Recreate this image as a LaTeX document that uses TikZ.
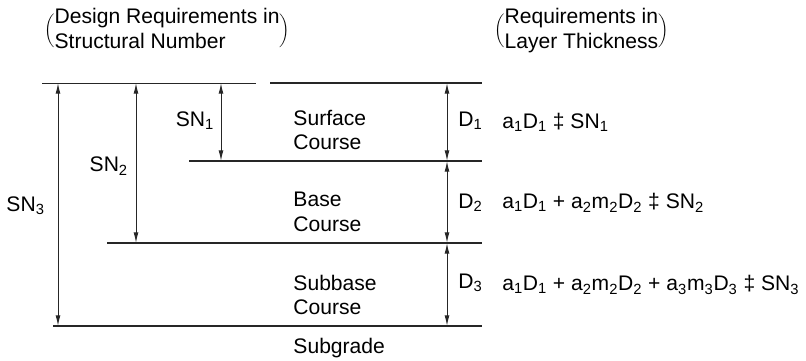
\documentclass[tikz,border=0pt]{standalone}
\usepackage{fontspec}
\setmainfont{Liberation Sans}
\usetikzlibrary{arrows.meta}
\newcommand\lsub[1]{\textsubscript{#1}}
\begin{document}
\begin{tikzpicture}[
  pavthin/.style = {line width=0.7pt, draw=black!85},
  pavthick/.style = {line width=1.5pt, draw=black!85},
  pavarr/.style = {{Latex[length=7.5pt,width=3.4pt]}-{Latex[length=7.5pt,width=3.4pt]}, line width=0.7pt, black!85},
  pavlbl/.style = {font=\fontsize{15}{17.5}\selectfont, inner sep=0pt, align=left}
]
  \useasboundingbox (0,0) rectangle (20.15,9);
  % levels and arrow columns
  \coordinate (l0) at (0,6.925);
  \coordinate (l1) at (0,4.975);
  \coordinate (l2) at (0,2.925);
  \coordinate (l3) at (0,0.85);
  \coordinate (xsn3) at (1.45,0);
  \coordinate (xsn2) at (3.4,0);
  \coordinate (xsn1) at (5.525,0);
  \coordinate (xd) at (11.175,0);
  % headings
  \node[pavlbl, anchor=west] (hdrsn) at (1.1,8.22)
    {$\bigg(\begin{tabular}{@{}l@{}}Design Requirements in\\Structural Number\end{tabular}\bigg)$};
  \node[pavlbl, anchor=west] (hdrd) at (12.35,8.22)
    {$\bigg(\begin{tabular}{@{}l@{}}Requirements in\\Layer Thickness\end{tabular}\bigg)$};
  % layer boundaries
  \draw[pavthin] (1.05,6.925) -- (6.4,6.925);
  \draw[pavthick] (6.75,6.925) -- (12.05,6.925);
  \draw[pavthick] (4.725,4.975) -- (12.05,4.975);
  \draw[pavthick] (2.675,2.925) -- (12.05,2.925);
  \draw[pavthick] (1.325,0.85) -- (12.05,0.85);
  % structural number arrows
  \draw[pavarr] (xsn3 |- l0) -- (xsn3 |- l3);
  \draw[pavarr] (xsn2 |- l0) -- (xsn2 |- l2);
  \draw[pavarr] (xsn1 |- l0) -- (xsn1 |- l1);
  \node[pavlbl] (sn3) at (0.64,3.85) {SN\lsub{3}};
  \node[pavlbl] (sn2) at (2.72,4.85) {SN\lsub{2}};
  \node[pavlbl] (sn1) at (4.875,5.98) {SN\lsub{1}};
  % thickness arrows
  \draw[pavarr] (xd |- l0) -- (xd |- l1);
  \draw[pavarr] (xd |- l1) -- (xd |- l2);
  \draw[pavarr] (xd |- l2) -- (xd |- l3);
  \node[pavlbl, anchor=west] (d1) at (11.45,5.98) {D\lsub{1}};
  \node[pavlbl, anchor=west] (d2) at (11.45,3.93) {D\lsub{2}};
  \node[pavlbl, anchor=west] (d3) at (11.45,1.93) {D\lsub{3}};
  % layer names
  \node[pavlbl, anchor=west] (surf) at (7.33,5.75) {Surface\\Course};
  \node[pavlbl, anchor=west] (base) at (7.33,3.7) {Base\\Course};
  \node[pavlbl, anchor=west] (subb) at (7.33,1.63) {Subbase\\Course};
  \node[pavlbl, anchor=west] (subg) at (7.33,0.3) {Subgrade};
  % requirements
  \node[pavlbl, anchor=west] (eq1) at (12.55,5.95)
    {a\lsub{1}D\lsub{1} ‡ SN\lsub{1}};
  \node[pavlbl, anchor=west] (eq2) at (12.55,3.93)
    {a\lsub{1}D\lsub{1} + a\lsub{2}m\lsub{2}D\lsub{2} ‡ SN\lsub{2}};
  \node[pavlbl, anchor=west] (eq3) at (12.55,1.88)
    {a\lsub{1}D\lsub{1} + a\lsub{2}m\lsub{2}D\lsub{2} + a\lsub{3}m\lsub{3}D\lsub{3} ‡ SN\lsub{3}};
\end{tikzpicture}
\end{document}
